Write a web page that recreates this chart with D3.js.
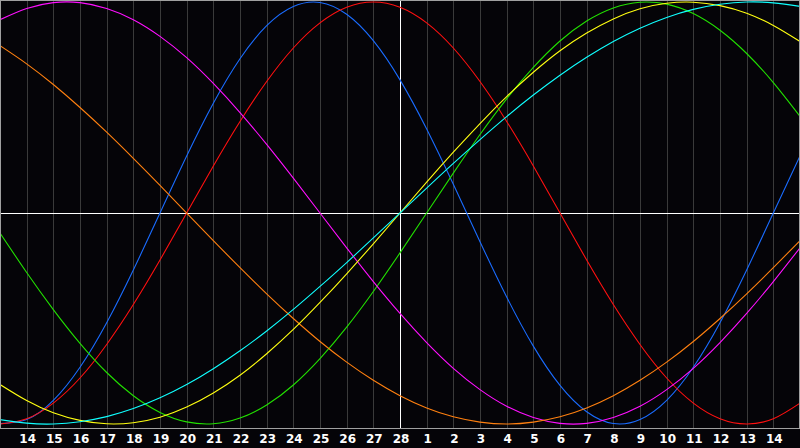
<!DOCTYPE html>
<html>
<head>
<meta charset="utf-8">
<script src="https://cdn.jsdelivr.net/npm/d3@7"></script>
<style>
  html, body { margin: 0; padding: 0; background: #050408; }
  svg { display: block; }
</style>
</head>
<body>
<div id="chart"></div>
<script>
// day labels under the grid lines (index 0 and 30 are the edges, unlabeled)
var dayLabels = ["13","14","15","16","17","18","19","20","21","22","23","24","25","26","27","28",
                 "1","2","3","4","5","6","7","8","9","10","11","12","13","14","15"];
var centerIndex = 15;

// cycle values in percent, one per day
var physical = [-99.8,-97.9,-88.8,-73.1,-52.0,-27.0,0,27.0,52.0,73.1,88.8,97.9,99.8,94.2,81.7,63.1,39.8,13.6,-13.6,-39.8,-63.1,-81.7,-94.2,-99.8,-97.9,-88.8,-73.1,-52.0,-27.0,0,27.0];
var emotional = [-100,-97.5,-90.1,-78.2,-62.3,-43.4,-22.3,0,22.3,43.4,62.3,78.2,90.1,97.5,100,97.5,90.1,78.2,62.3,43.4,22.3,0,-22.3,-43.4,-62.3,-78.2,-90.1,-97.5,-100,-97.5,-90.1];
var intellectual = [-9.5,-28.2,-45.8,-61.8,-75.6,-86.6,-94.5,-99.0,-99.9,-97.2,-91.0,-81.5,-69.0,-54.1,-37.2,-18.9,0,18.9,37.2,54.1,69.0,81.5,91.0,97.2,99.9,99.0,94.5,86.6,75.6,61.8,45.8];
var intuitive = [91.6,96.9,99.7,99.7,96.9,91.6,83.7,73.6,61.4,47.6,32.5,16.5,0,-16.5,-32.5,-47.6,-61.4,-73.6,-83.7,-91.6,-96.9,-99.7,-99.7,-96.9,-91.6,-83.7,-73.6,-61.4,-47.6,-32.5,-16.5];
var awareness = [79.3,70.7,60.9,50.0,38.3,25.9,13.1,0,-13.1,-25.9,-38.3,-50.0,-60.9,-70.7,-79.3,-86.6,-92.4,-96.6,-99.1,-100,-99.1,-96.6,-92.4,-86.6,-79.3,-70.7,-60.9,-50.0,-38.3,-25.9,-13.1];
var aesthetic = [-81.3,-88.9,-94.7,-98.3,-99.9,-99.4,-96.8,-92.0,-85.3,-76.9,-66.7,-55.2,-42.4,-28.8,-14.6,0,14.6,28.8,42.4,55.2,66.7,76.9,85.3,92.0,96.8,99.4,99.9,98.3,94.7,88.9,81.3];
var spiritual = [-97.9,-99.6,-100,-98.9,-96.5,-92.7,-87.6,-81.3,-73.8,-65.3,-55.9,-45.7,-34.8,-23.5,-11.8,0,11.8,23.5,34.8,45.7,55.9,65.3,73.8,81.3,87.6,92.7,96.5,98.9,100,99.6,97.9];

var seriesNames = ["physical","emotional","intellectual","intuitive","awareness","aesthetic","spiritual"];
var seriesValues = [physical, emotional, intellectual, intuitive, awareness, aesthetic, spiritual];
var seriesColors = ["#1a6cff","#ff1010","#22e000","#ff10ff","#ff8010","#ffff10","#10ffff"];

var width = 800, height = 448, plotHeight = 428;

var svg = d3.select("#chart")
  .append("svg")
    .attr("width", width)
    .attr("height", height)
    .style("background", "#050408");

var x = d3.scaleLinear()
  .domain([0, dayLabels.length - 1])
  .range([0, width]);

var y = d3.scaleLinear()
  .domain([-100, 100])
  .range([424, 2]);

// vertical day grid
var gridDays = d3.range(1, dayLabels.length - 1);
svg.append("g")
  .selectAll("line")
  .data(gridDays)
  .enter()
  .append("line")
    .attr("x1", function(d) { return Math.round(x(d)) + 0.5; })
    .attr("x2", function(d) { return Math.round(x(d)) + 0.5; })
    .attr("y1", 0)
    .attr("y2", plotHeight)
    .attr("stroke", function(d) { return d === centerIndex ? "#ffffff" : "#3a3a3a"; })
    .attr("stroke-width", 1)
    .attr("shape-rendering", "crispEdges");

// zero line
svg.append("line")
  .attr("x1", 0)
  .attr("x2", width)
  .attr("y1", Math.round(y(0)) + 0.5)
  .attr("y2", Math.round(y(0)) + 0.5)
  .attr("stroke", "#ffffff")
  .attr("shape-rendering", "crispEdges");

// curves
var line = d3.line()
  .x(function(d, i) { return x(i); })
  .y(function(d) { return y(d); })
  .curve(d3.curveNatural);

svg.append("g")
  .selectAll("path")
  .data(seriesValues)
  .enter()
  .append("path")
    .attr("d", function(d) { return line(d); })
    .attr("fill", "none")
    .attr("stroke", function(d, i) { return seriesColors[i]; })
    .attr("stroke-width", 1.1);

// frame
svg.append("rect")
  .attr("x", 0.5)
  .attr("y", 0.5)
  .attr("width", width - 1)
  .attr("height", plotHeight)
  .attr("fill", "none")
  .attr("stroke", "#a0a0a0")
  .attr("shape-rendering", "crispEdges");

// day labels
svg.append("g")
  .selectAll("text")
  .data(gridDays)
  .enter()
  .append("text")
    .attr("x", function(d) { return x(d) + 1; })
    .attr("y", 443)
    .attr("text-anchor", "middle")
    .attr("fill", "#ffffff")
    .style("font-family", "'DejaVu Sans', sans-serif")
    .style("font-weight", "bold")
    .style("font-size", "12px")
    .text(function(d) { return dayLabels[d]; });
</script>
</body>
</html>
